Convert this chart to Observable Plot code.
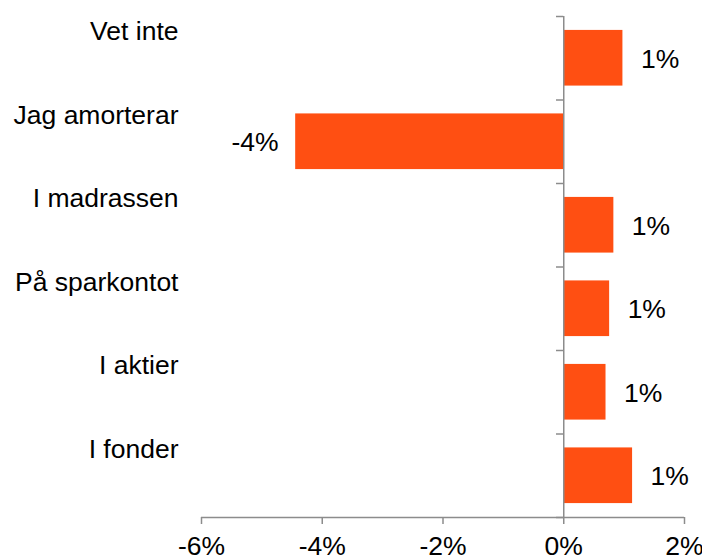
<!DOCTYPE html>
<html><head><meta charset="utf-8">
<script src="https://cdn.jsdelivr.net/npm/d3@7"></script>
<script src="https://cdn.jsdelivr.net/npm/@observablehq/plot@0.6"></script>
<style>
html,body{margin:0;padding:0;background:#fff;}
#chart svg{display:block;}
</style>
</head><body>
<div id="chart"></div>
<script>
const categories = ["Vet inte", "Jag amorterar", "I madrassen", "På sparkontot", "I aktier", "I fonder"];
const values = [0.98, -4.44, 0.83, 0.76, 0.70, 1.14];
const valueLabels = ["1%", "-4%", "1%", "1%", "1%", "1%"];
const xTicks = [-6, -4, -2, 0, 2];
const xTickLabels = ["-6%", "-4%", "-2%", "0%", "2%"];

const data = categories.map((c, i) => ({cat: c, i, v: values[i], label: valueLabels[i]}));
const boundaries = d3.range(categories.length + 1);
const axisColor = "#8c8c8c";
const barColor = "#ff4f12";
const fs = 26.5;

const chart = Plot.plot({
  width: 702,
  height: 557,
  marginLeft: 201,
  marginRight: 18,
  marginTop: 16,
  marginBottom: 40,
  style: {fontFamily: "'Liberation Sans', Arial, sans-serif", fontSize: fs + "px", color: "#000", background: "#fff"},
  x: {domain: [-6, 2], axis: null, label: null},
  y: {domain: [0, categories.length], reverse: true, axis: null, label: null},
  marks: [
    Plot.rectX(data, {x1: 0, x2: "v", y1: d => d.i + 1/6, y2: d => d.i + 5/6, fill: barColor}),
    Plot.ruleX([0], {y1: 0, y2: categories.length, stroke: axisColor, strokeWidth: 1.5}),
    Plot.ruleY(boundaries, {y: d => d, x1: -0.12, x2: 0, stroke: axisColor, strokeWidth: 1.5}),
    Plot.ruleY([categories.length], {x1: -6, x2: 2, stroke: axisColor, strokeWidth: 1.5}),
    Plot.axisX({ticks: xTicks, tickFormat: (d) => xTickLabels[xTicks.indexOf(d)], label: null, tickSize: 7, tickPadding: 12, stroke: axisColor, strokeWidth: 1.5, color: "#000", fontSize: fs}),
    Plot.text(data, {y: d => d.i + 0.18, frameAnchor: "left", dx: -23, text: "cat", textAnchor: "end", fill: "#000", fontSize: fs}),
    Plot.text(data.filter(d => d.v >= 0), {x: "v", y: d => d.i + 0.5, dy: 1, dx: 18, text: "label", textAnchor: "start", fill: "#000", fontSize: fs}),
    Plot.text(data.filter(d => d.v < 0), {x: "v", y: d => d.i + 0.5, dy: 1, dx: -17, text: "label", textAnchor: "end", fill: "#000", fontSize: fs})
  ]
});
document.getElementById("chart").appendChild(chart);
</script>
</body></html>
